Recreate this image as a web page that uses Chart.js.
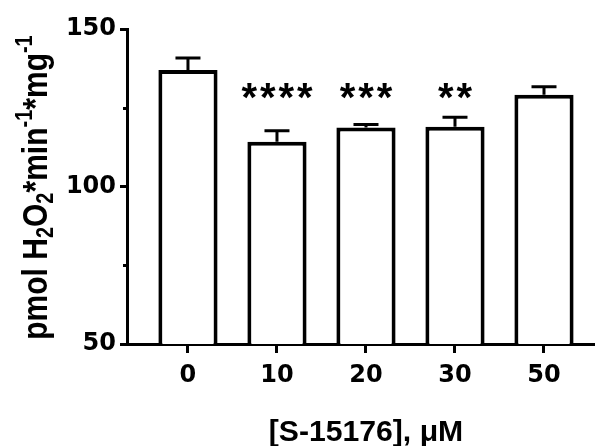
<!DOCTYPE html>
<html><head><meta charset="utf-8">
<script src="https://cdn.jsdelivr.net/npm/chart.js@4/dist/chart.umd.min.js"></script>
<style>html,body{margin:0;padding:0;background:#fff}canvas{display:block}</style>
</head><body>
<canvas id="c" width="595" height="446"></canvas>
<script>
const categories = ['0', '10', '20', '30', '50'];
const means = [137.0, 114.2, 118.7, 119.0, 129.1];
const sems = [3.8, 3.5, 1.0, 3.0, 2.6];
const stars = ['', '****', '***', '**', ''];
const yTicks = [50, 100, 150];
const yMinorTicks = [75, 125];
const xTitle = '[S-15176], \u03bcM';
const yTitleParts = [['pmol H', 'n'], ['2', 'sub'], ['O', 'n'], ['2', 'sub'], ['*min', 'n'], ['-1', 'sup'], ['*mg', 'n'], ['-1', 'sup']];

const FONT = '"Liberation Sans", Arial, sans-serif';
const TICKFONT = '"DejaVu Sans", sans-serif';

const extras = {
  id: 'extras',
  afterDatasetsDraw(chart) {
    const ctx = chart.ctx;
    const xs = chart.scales.x, ys = chart.scales.y;
    ctx.save();
    ctx.strokeStyle = '#000';
    ctx.fillStyle = '#000';
    // error bars (upper only)
    ctx.lineWidth = 3;
    ctx.lineCap = 'butt';
    means.forEach((m, i) => {
      const x = xs.getPixelForValue(i);
      const yb = ys.getPixelForValue(m);
      const yt = ys.getPixelForValue(m + sems[i]);
      ctx.beginPath();
      ctx.moveTo(x, yb); ctx.lineTo(x, yt);
      ctx.moveTo(x - 12.5, yt); ctx.lineTo(x + 12.5, yt);
      ctx.stroke();
    });
    // minor y ticks
    ctx.lineWidth = 3;
    yMinorTicks.forEach(v => {
      const y = Math.round(ys.getPixelForValue(v)) + 0.5;
      ctx.beginPath();
      ctx.moveTo(xs.left - 4, y); ctx.lineTo(xs.left, y);
      ctx.stroke();
    });
    // significance stars
    ctx.font = 'bold 40px ' + FONT;
    ctx.textAlign = 'center';
    ctx.textBaseline = 'alphabetic';
    const starY = ys.getPixelForValue(131) + 22;
    stars.forEach((s, i) => {
      if (!s) return;
      const cx = xs.getPixelForValue(i);
      const n = s.length, pitch = 18.5;
      for (let k = 0; k < n; k++) {
        ctx.fillText('*', cx + (k - (n - 1) / 2) * pitch, starY);
      }
    });
    // x title
    ctx.save();
    ctx.font = 'bold 29px ' + FONT;
    ctx.textAlign = 'center';
    ctx.translate((xs.getPixelForValue(0) + xs.getPixelForValue(4)) / 2, 441);
    ctx.scale(1.04, 1);
    ctx.fillText(xTitle, 0, 0);
    ctx.restore();
    // y title (rotated, with sub/superscripts)
    const big = 30, small = 20;
    const fontFor = t => 'bold ' + (t === 'n' ? big : small) + 'px ' + FONT;
    let total = 0;
    yTitleParts.forEach(([s, t]) => { ctx.font = fontFor(t); total += ctx.measureText(s).width; });
    ctx.translate(47, (ys.top + ys.bottom) / 2 + 1);
    ctx.rotate(-Math.PI / 2);
    ctx.scale(1, 1.17);
    ctx.textAlign = 'left';
    let px = -total / 2;
    yTitleParts.forEach(([s, t]) => {
      ctx.font = fontFor(t);
      const dy = t === 'sub' ? 5 : (t === 'sup' ? -13 : 0);
      ctx.fillText(s, px, dy);
      px += ctx.measureText(s).width;
    });
    ctx.restore();
  }
};

new Chart(document.getElementById('c'), {
  type: 'bar',
  data: {
    datasets: [{
      data: means.map((v, i) => ({ x: i, y: v })),
      backgroundColor: '#fff',
      borderColor: '#000',
      borderWidth: 4,
      borderSkipped: 'bottom',
      barPercentage: 0.665,
      categoryPercentage: 1,
      clip: { left: false, right: false, top: false, bottom: 0 }
    }]
  },
  options: {
    responsive: false,
    animation: false,
    devicePixelRatio: 1,
    layout: { padding: { top: 29, right: 0, bottom: 0, left: 0 } },
    plugins: { legend: { display: false }, tooltip: { enabled: false } },
    scales: {
      x: {
        type: 'linear',
        offset: false,
        min: -0.685,
        max: 4.573,
        afterBuildTicks: s => { s.ticks = categories.map((c, i) => ({ value: i })); },
        afterFit: s => { s.height = 102; },
        ticks: {
          callback: v => categories[v],
          color: '#000',
          font: { family: TICKFONT, size: 24, weight: 'bold' },
          padding: 8,
          maxRotation: 0
        },
        grid: { offset: false, drawOnChartArea: false, tickLength: 9, tickWidth: 3, tickColor: '#000' },
        border: { color: '#000', width: 3 }
      },
      y: {
        min: 50,
        max: 150,
        afterBuildTicks: s => { s.ticks = yTicks.map(v => ({ value: v })); },
        afterFit: s => { s.width = 127; },
        ticks: {
          color: '#000',
          font: { family: TICKFONT, size: 24, weight: 'bold' },
          padding: 4
        },
        grid: { drawOnChartArea: false, tickLength: 7, tickWidth: 3, tickColor: '#000' },
        border: { color: '#000', width: 3 }
      }
    }
  },
  plugins: [extras]
});
</script>
</body></html>
